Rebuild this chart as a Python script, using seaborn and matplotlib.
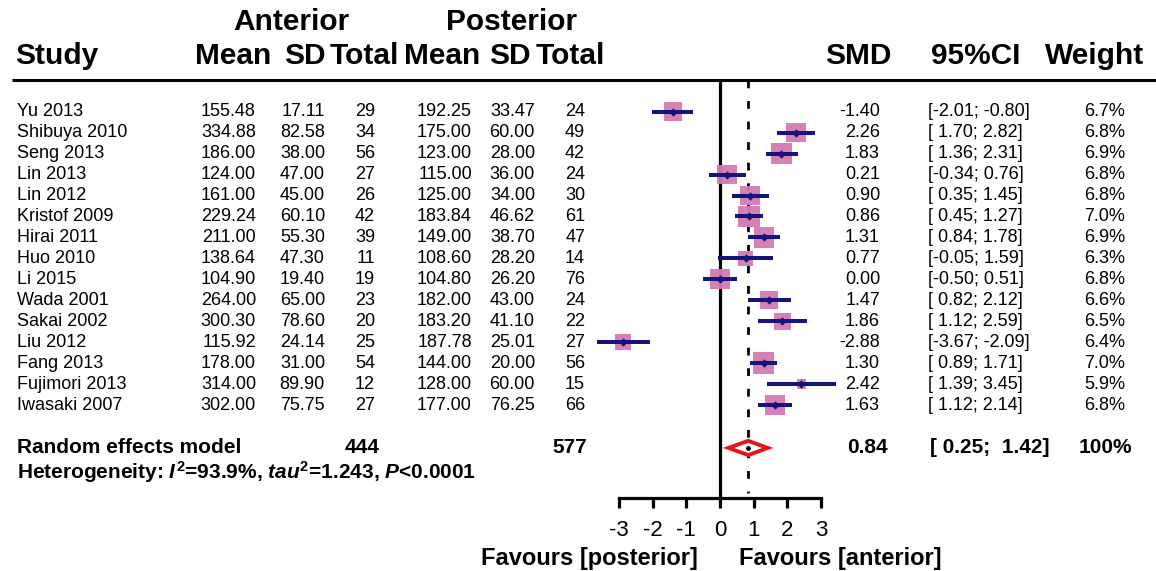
import numpy as np
import pandas as pd
import matplotlib
matplotlib.use("Agg")
import matplotlib.pyplot as plt
import seaborn as sns
from matplotlib.transforms import blended_transform_factory
from matplotlib.patches import Polygon

# ---------------- data ----------------
studies = ["Yu 2013", "Shibuya 2010", "Seng 2013", "Lin 2013", "Lin 2012",
           "Kristof 2009", "Hirai 2011", "Huo 2010", "Li 2015", "Wada 2001",
           "Sakai 2002", "Liu 2012", "Fang 2013", "Fujimori 2013", "Iwasaki 2007"]
ant_mean = [155.48, 334.88, 186.00, 124.00, 161.00, 229.24, 211.00, 138.64,
            104.90, 264.00, 300.30, 115.92, 178.00, 314.00, 302.00]
ant_sd = [17.11, 82.58, 38.00, 47.00, 45.00, 60.10, 55.30, 47.30,
          19.40, 65.00, 78.60, 24.14, 31.00, 89.90, 75.75]
ant_n = [29, 34, 56, 27, 26, 42, 39, 11, 19, 23, 20, 25, 54, 12, 27]
post_mean = [192.25, 175.00, 123.00, 115.00, 125.00, 183.84, 149.00, 108.60,
             104.80, 182.00, 183.20, 187.78, 144.00, 128.00, 177.00]
post_sd = [33.47, 60.00, 28.00, 36.00, 34.00, 46.62, 38.70, 28.20,
           26.20, 43.00, 41.10, 25.01, 20.00, 60.00, 76.25]
post_n = [24, 49, 42, 24, 30, 61, 47, 14, 76, 24, 22, 27, 56, 15, 66]
smd = [-1.40, 2.26, 1.83, 0.21, 0.90, 0.86, 1.31, 0.77, 0.00, 1.47,
       1.86, -2.88, 1.30, 2.42, 1.63]
ci_low = [-2.01, 1.70, 1.36, -0.34, 0.35, 0.45, 0.84, -0.05, -0.50, 0.82,
          1.12, -3.67, 0.89, 1.39, 1.12]
ci_high = [-0.80, 2.82, 2.31, 0.76, 1.45, 1.27, 1.78, 1.59, 0.51, 2.12,
           2.59, -2.09, 1.71, 3.45, 2.14]
weight = [6.7, 6.8, 6.9, 6.8, 6.8, 7.0, 6.9, 6.3, 6.8, 6.6, 6.5, 6.4, 7.0, 5.9, 6.8]

pooled_smd = 0.84
pooled_low = 0.25
pooled_high = 1.42
total_ant = 444
total_post = 577
pooled_weight = "100%"
heterogeneity = "Heterogeneity: $I^2$=93.9%, $tau^2$=1.243, $P$<0.0001"
xticks = [-3, -2, -1, 0, 1, 2, 3]

# ---------------- style ----------------
sns.set_theme(style="white")
plt.rcParams["font.family"] = ["Liberation Sans", "DejaVu Sans"]
plt.rcParams["axes.unicode_minus"] = False
plt.rcParams["mathtext.fontset"] = "custom"
plt.rcParams["mathtext.rm"] = "Liberation Sans:bold"
plt.rcParams["mathtext.bf"] = "Liberation Sans:bold"
plt.rcParams["mathtext.it"] = "Liberation Sans:italic:bold"

W, H = 1156, 571
PINK = "#d579b2"
NAVY = "#14147c"
RED = "#e3141c"

fig = plt.figure(figsize=(W / 100, H / 100), dpi=100)
fig.patch.set_facecolor("white")

# pixel layout of forest panel
x0_px, unit_px = 720.0, 33.6
row0_px, row_px = 111.7, 20.95
top_px, base_px = 80.0, 498.0
xlim = (-4.0, 4.0)
left_px = x0_px + xlim[0] * unit_px
right_px = x0_px + xlim[1] * unit_px
ax = fig.add_axes([left_px / W, 1 - base_px / H, (right_px - left_px) / W,
                   (base_px - top_px) / H])
ax.set_facecolor("none")

def row_of(ypx):
    return (ypx - row0_px) / row_px

y_top = row_of(top_px)
y_base = row_of(base_px)

n = len(studies)
df = pd.DataFrame(dict(study=studies, smd=smd, lo=ci_low, hi=ci_high,
                       weight=weight, row=np.arange(n)))

# squares (weights)
sns.scatterplot(data=df, x="smd", y="row", size="weight", sizes=(45, 235),
                size_norm=(5.9, 7.0), marker="s", color=PINK, linewidth=0,
                alpha=0.95, legend=False, ax=ax, zorder=2, clip_on=False)
# CI lines
ax.hlines(df["row"], df["lo"], df["hi"], color=NAVY, lw=2.9, zorder=3,
          clip_on=False)
# point estimates
sns.scatterplot(data=df, x="smd", y="row", marker="D", s=18, color=NAVY,
                linewidth=0, legend=False, ax=ax, zorder=4, clip_on=False)

# pooled diamond
r_pool = 16.05
dh = 0.34
diamond = Polygon([[pooled_low, r_pool], [pooled_smd, r_pool - dh],
                   [pooled_high, r_pool], [pooled_smd, r_pool + dh]],
                  closed=True, facecolor="white", edgecolor=RED, lw=2.8,
                  zorder=5, clip_on=False)
ax.add_patch(diamond)
ax.plot([pooled_smd], [r_pool], marker="o", ms=2.5, color="black", zorder=6)

# reference lines
ax.axvline(0, color="black", lw=2.3, zorder=1)
ax.vlines(pooled_smd, y_top, row_of(493), colors="black", lw=2.0,
          linestyles=(0, (2.8, 4.6)), zorder=1)

ax.set_xlim(*xlim)
ax.set_ylim(y_base, y_top)
ax.set_xlabel("")
ax.set_ylabel("")
ax.set_yticks([])
ax.set_xticks(xticks)
ax.set_xticklabels([str(t) for t in xticks])
for s in ["top", "right", "left"]:
    ax.spines[s].set_visible(False)
ax.spines["bottom"].set_bounds(xticks[0], xticks[-1])
ax.spines["bottom"].set_linewidth(2.3)
ax.spines["bottom"].set_color("black")
ax.tick_params(axis="x", direction="out", length=7.5, width=2.3,
               colors="black", labelsize=16, pad=8, bottom=True)

# ---------------- text columns ----------------
tr = blended_transform_factory(fig.transFigure, ax.transData)

def put(xpx, row, s, ha="left", size=13, weight="normal"):
    ax.text(xpx / W, row, s, transform=tr, ha=ha, va="center",
            fontsize=size, fontweight=weight, color="black", clip_on=False)

# header line
ax.plot([12 / W, 1.0], [y_top, y_top], transform=tr, color="black", lw=2.2,
        clip_on=False, solid_capstyle="butt")

# headers
hs = 21.5
r_h1 = row_of(22)
r_h2 = row_of(56)
put(291, r_h1, "Anterior", "center", hs, "bold")
put(512, r_h1, "Posterior", "center", hs, "bold")
put(15, r_h2, "Study", "left", hs, "bold")
put(233, r_h2, "Mean", "center", hs, "bold")
put(305, r_h2, "SD", "center", hs, "bold")
put(364, r_h2, "Total", "center", hs, "bold")
put(442, r_h2, "Mean", "center", hs, "bold")
put(510, r_h2, "SD", "center", hs, "bold")
put(570, r_h2, "Total", "center", hs, "bold")
put(858, r_h2, "SMD", "center", hs, "bold")
put(976, r_h2, "95%CI", "center", hs, "bold")
put(1095, r_h2, "Weight", "center", hs, "bold")

# study rows
for i in range(n):
    put(17, i, studies[i])
    put(256, i, f"{ant_mean[i]:.2f}", "right")
    put(325, i, f"{ant_sd[i]:.2f}", "right")
    put(375, i, f"{ant_n[i]}", "right")
    put(472, i, f"{post_mean[i]:.2f}", "right")
    put(535, i, f"{post_sd[i]:.2f}", "right")
    put(585, i, f"{post_n[i]}", "right")
    put(880, i, f"{smd[i]:.2f}", "right")
    put(928, i, f"[{ci_low[i]:5.2f}; {ci_high[i]:.2f}]", "left")
    put(1125, i, f"{weight[i]:.1f}%", "right")

# pooled row
bs = 15
put(17, r_pool, "Random effects model", "left", bs, "bold")
put(379, r_pool, f"{total_ant}", "right", bs, "bold")
put(587, r_pool, f"{total_post}", "right", bs, "bold")
put(888, r_pool, f"{pooled_smd:.2f}", "right", bs, "bold")
put(930, r_pool, f"[{pooled_low:5.2f};  {pooled_high:.2f}]", "left", bs, "bold")
put(1132, r_pool, pooled_weight, "right", bs, "bold")
put(17, row_of(472), heterogeneity, "left", bs, "bold")

# favours labels
r_fav = row_of(558)
put(698, r_fav, "Favours [posterior]", "right", 17, "bold")
put(739, r_fav, "Favours [anterior]", "left", 17, "bold")

fig.savefig("out.png", dpi=100, facecolor="white")
